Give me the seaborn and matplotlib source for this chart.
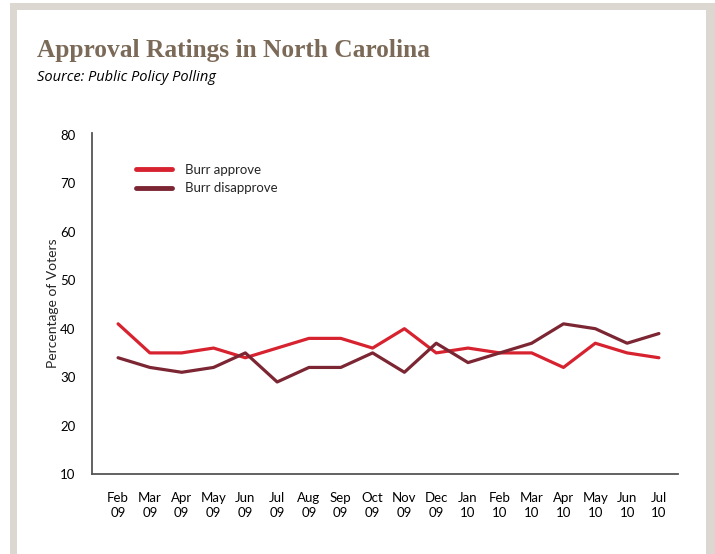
import matplotlib
matplotlib.use("Agg")
import matplotlib.pyplot as plt
import seaborn as sns
import pandas as pd
from matplotlib.patches import Rectangle

# Monthly poll results (percent)
months = ["Feb\n09", "Mar\n09", "Apr\n09", "May\n09", "Jun\n09", "Jul\n09",
          "Aug\n09", "Sep\n09", "Oct\n09", "Nov\n09", "Dec\n09", "Jan\n10",
          "Feb\n10", "Mar\n10", "Apr\n10", "May\n10", "Jun\n10", "Jul\n10"]
burr_approve = [41, 35, 35, 36, 34, 36, 38, 38, 36, 40, 35, 36, 35, 35, 32, 37, 35, 34]
burr_disapprove = [34, 32, 31, 32, 35, 29, 32, 32, 35, 31, 37, 33, 35, 37, 41, 40, 37, 39]
series_names = ["Burr approve", "Burr disapprove"]
y_ticks = [10, 20, 30, 40, 50, 60, 70, 80]

df = pd.DataFrame({
    "idx": list(range(len(months))) * 2,
    "value": burr_approve + burr_disapprove,
    "series": [series_names[0]] * len(months) + [series_names[1]] * len(months),
})

sns.set_style("white")
plt.rcParams["font.family"] = ["Lato", "DejaVu Sans"]

W, H = 715, 554
fig = plt.figure(figsize=(W / 100, H / 100), dpi=100)
fig.patch.set_facecolor("white")

# Frame around the panel
frame = "#dcd8d1"
def px_rect(x0, y0, x1, y1):
    fig.patches.append(Rectangle((x0 / W, 1 - y1 / H), (x1 - x0) / W, (y1 - y0) / H,
                                 transform=fig.transFigure, facecolor=frame,
                                 edgecolor="none", zorder=0))
px_rect(10, 3, 715, 10)
px_rect(10, 3, 17, 554)
px_rect(706, 3, 715, 554)

ax = fig.add_axes([92 / W, 1 - 474 / H, (678 - 92) / W, (474 - 133) / H])
ax.set_facecolor("none")

palette = {series_names[0]: "#d7222f", series_names[1]: "#7c2633"}
sns.lineplot(data=df, x="idx", y="value", hue="series", palette=palette,
             linewidth=2.3, ax=ax)

ax.set_xlim(-0.82, 17.6)
ax.set_ylim(10, 80.4)
ax.set_xticks(range(len(months)))
ax.set_xticklabels(months, fontsize=9.5, linespacing=1.3)
ax.set_yticks(y_ticks)
ax.set_yticklabels([str(v) for v in y_ticks], fontsize=9.5)
ax.tick_params(axis="x", length=0, pad=13, colors="black")
ax.tick_params(axis="y", length=0, pad=12, colors="black")
ax.set_xlabel("")
ax.set_ylabel("Percentage of Voters", fontsize=10, labelpad=1)

for side in ["top", "right"]:
    ax.spines[side].set_visible(False)
for side in ["left", "bottom"]:
    ax.spines[side].set_color("#555555")
    ax.spines[side].set_linewidth(1.3)

leg = ax.legend(loc="upper left", bbox_to_anchor=(0.055, 0.945), frameon=False,
                fontsize=9.5, handlelength=2.7, handletextpad=1.0, labelspacing=0.5)
for line in leg.get_lines():
    line.set_linewidth(3.5)

fig.text(37 / W, 1 - 57 / H, "Approval Ratings in North Carolina",
         fontsize=18.3, fontweight="bold", color="#7b6a58",
         family=["Liberation Serif"], va="baseline", ha="left")
fig.text(37 / W, 1 - 81 / H, "Source: Public Policy Polling",
         fontsize=10.5, style="italic", color="black",
         family=["Open Sans", "DejaVu Sans"], va="baseline", ha="left")

fig.savefig("out.png", dpi=100)
